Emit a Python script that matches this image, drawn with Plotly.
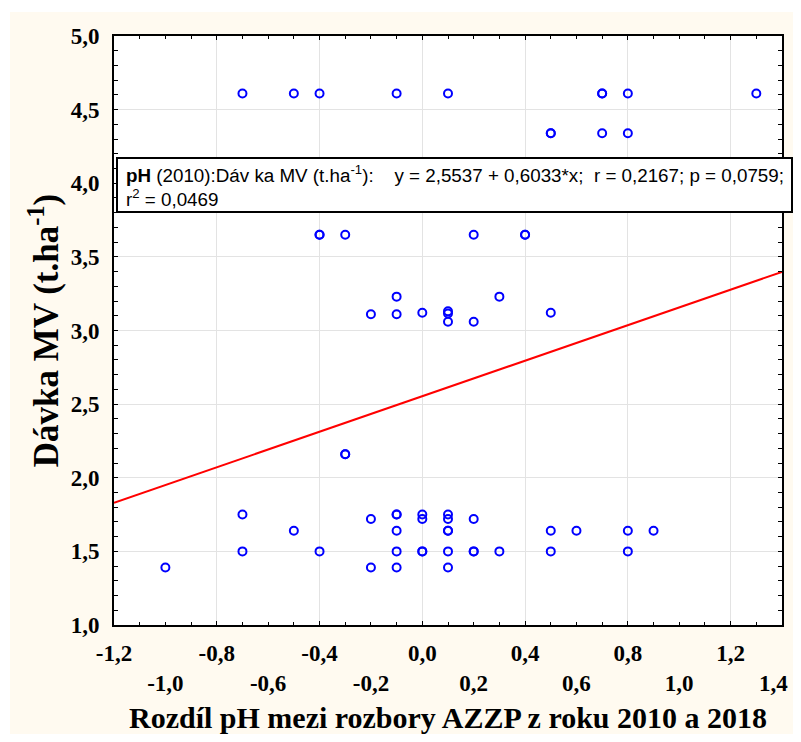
import plotly.graph_objects as go

# ---- data ----
ph_diff = [-0.7, -0.5, -0.4, -0.1, 0.1, 0.7, 0.7, 0.8, 1.3,
           0.5, 0.5, 0.7, 0.8,
           -0.4, -0.4, -0.3, 0.2, 0.4, 0.4,
           -0.1, 0.3,
           -0.2, -0.1, 0.0, 0.5, 0.1, 0.1,
           0.1, 0.2,
           -0.3, -0.3,
           -0.7, -0.1, -0.1, 0.0, 0.1,
           -0.2, 0.0, 0.1, 0.2,
           -0.5, -0.1, 0.1, 0.1, 0.5, 0.6, 0.8, 0.9,
           -0.7, -0.4, -0.1, 0.0, 0.0, 0.1, 0.2, 0.2, 0.3, 0.5, 0.8,
           -1.0, -0.2, -0.1, 0.1]
davka = [4.61, 4.61, 4.61, 4.61, 4.61, 4.61, 4.61, 4.61, 4.61,
         4.34, 4.34, 4.34, 4.34,
         3.65, 3.65, 3.65, 3.65, 3.65, 3.65,
         3.23, 3.23,
         3.11, 3.11, 3.12, 3.12, 3.13, 3.115,
         3.06, 3.06,
         2.16, 2.16,
         1.75, 1.75, 1.75, 1.75, 1.75,
         1.72, 1.72, 1.72, 1.72,
         1.64, 1.64, 1.64, 1.64, 1.64, 1.64, 1.64, 1.64,
         1.50, 1.50, 1.50, 1.50, 1.50, 1.50, 1.50, 1.50, 1.50, 1.50, 1.50,
         1.39, 1.39, 1.39, 1.39]

intercept = 2.5537
slope = 0.6033
x_range = [-1.2, 1.4]
y_range = [1.0, 5.0]

x_ticks_row1 = [-1.2, -0.8, -0.4, 0.0, 0.4, 0.8, 1.2]
x_ticks_row2 = [-1.0, -0.6, -0.2, 0.2, 0.6, 1.0, 1.4]
y_ticks = [1.0, 1.5, 2.0, 2.5, 3.0, 3.5, 4.0, 4.5, 5.0]


def fmt(v):
    return f"{v:.1f}".replace(".", ",")


fit_x = x_range
fit_y = [intercept + slope * v for v in fit_x]

CREAM = "#FFFAF0"
SERIF = "Liberation Serif, Times New Roman, serif"
SANS = "Liberation Sans, Arial, sans-serif"
NB = "\u00a0"

fig = go.Figure()
fig.add_trace(go.Scatter(x=fit_x, y=fit_y, mode="lines",
                         line=dict(color="#FF0000", width=2),
                         showlegend=False, hoverinfo="skip"))
fig.add_trace(go.Scatter(x=ph_diff, y=davka, mode="markers",
                         marker=dict(symbol="circle-open", size=8, color="#0000FF",
                                     line=dict(width=2, color="#0000FF")),
                         showlegend=False))
fig.add_trace(go.Scatter(x=[None], y=[None], xaxis="x2", showlegend=False,
                         hoverinfo="skip"))

tickfont = dict(family=SERIF, size=23, color="black", weight="bold")

row2_text = [fmt(v) for v in x_ticks_row2]
row2_text[-1] = row2_text[-1] + NB * 3  # keep the last label inside the page edge

# the page body adds an 8px offset on every side; figure sized so no scrollbars appear
fig.update_layout(
    width=785, height=726,
    margin=dict(l=106, r=11, t=28, b=109, autoexpand=False),
    paper_bgcolor=CREAM,
    plot_bgcolor="white",
    xaxis=dict(range=x_range, tickvals=x_ticks_row1,
               ticktext=[fmt(v) for v in x_ticks_row1],
               tickfont=tickfont, showgrid=True, gridcolor="#E3E3E3", gridwidth=1,
               showline=True, linecolor="black", linewidth=2, mirror="allticks",
               ticks="inside", ticklen=4, tickcolor="black", tickwidth=1,
               ticklabelstandoff=6, zeroline=False, automargin=False,
               ticklabeloverflow="allow",
               minor=dict(dtick=0.1, tick0=0, ticks="inside", ticklen=3,
                          tickcolor="black", showgrid=False),
               title=dict(text="Rozdíl pH mezi rozbory AZZP z roku 2010 a 2018",
                          font=dict(family=SERIF, size=30, color="black", weight="bold"),
                          standoff=54)),
    xaxis2=dict(range=x_range, overlaying="x", side="bottom", anchor="y",
                tickvals=x_ticks_row2, ticktext=row2_text,
                tickfont=tickfont, showgrid=False, showline=False, ticks="",
                ticklabelstandoff=42, zeroline=False, automargin=False,
                ticklabeloverflow="allow"),
    yaxis=dict(range=y_range, tickvals=y_ticks, ticktext=[fmt(v) for v in y_ticks],
               tickfont=tickfont, showgrid=True, gridcolor="#E3E3E3", gridwidth=1,
               showline=True, linecolor="black", linewidth=2, mirror="allticks",
               ticks="inside", ticklen=4, tickcolor="black", tickwidth=1,
               ticklabelstandoff=8, zeroline=False, automargin=False,
               minor=dict(dtick=0.1, tick0=0, ticks="inside", ticklen=3,
                          tickcolor="black", showgrid=False),
               title=dict(text="Dávka MV (t.ha<sup>-1</sup>)",
                          font=dict(family=SERIF, size=35, color="black", weight="bold"),
                          standoff=1)),
)


# helpers: window pixel -> paper coordinates (plot area spans 114..782 x 36..625 on screen)
def px_x(p):
    return (p - 114) / 668


def px_y(p):
    return (625 - p) / 589


for x0, y0, x1, y1 in [(0, 0, 10, 742), (0, 0, 801, 12)]:
    fig.add_shape(type="rect", xref="paper", yref="paper",
                  x0=px_x(x0), x1=px_x(x1), y0=px_y(y1), y1=px_y(y0),
                  fillcolor="white", line=dict(width=0), layer="below")

# regression info box
fig.add_shape(type="rect", xref="paper", yref="paper",
              x0=px_x(117), x1=px_x(792), y0=px_y(212), y1=px_y(158),
              fillcolor="white", line=dict(color="black", width=2), layer="above")
box_text = ("<b>pH</b> (2010):Dáv ka MV (t.ha<sup>-1</sup>):" + NB * 4 +
            "y = 2,5537 + 0,6033*x;" + NB * 2 + "r = 0,2167; p = 0,0759;<br>"
            "r<sup>2</sup> = 0,0469")
fig.add_annotation(xref="paper", yref="paper", x=px_x(124), y=px_y(186),
                   xanchor="left", yanchor="middle", align="left", showarrow=False,
                   text=box_text, font=dict(family=SANS, size=18.8, color="black"))

fig.write_html("out.html")
